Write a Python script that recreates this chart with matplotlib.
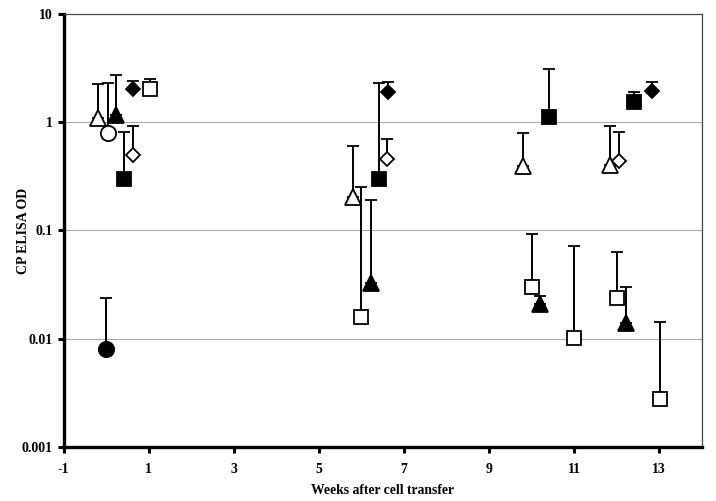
import numpy as np
import matplotlib
matplotlib.use('Agg')
import matplotlib.pyplot as pyplot
from matplotlib.ticker import FixedLocator, FuncFormatter, NullLocator

# weeks after transfer, OD value, top of error bar
tri_open_x = [-0.19, 5.81, 9.81, 11.84]
tri_open_y = [1.09, 0.205, 0.39, 0.40]
tri_open_top = [2.24, 0.60, 0.79, 0.91]

circ_open_x = [0.03]
circ_open_y = [0.79]
circ_open_top = [2.29]

circ_fill_x = [0.0]
circ_fill_y = [0.008]
circ_fill_top = [0.024]

tri_fill_x = [0.24, 6.22, 10.21, 12.21]
tri_fill_y = [1.16, 0.033, 0.021, 0.014]
tri_fill_top = [2.71, 0.19, 0.025, 0.030]

dia_fill_x = [0.64, 6.63, 12.84]
dia_fill_y = [2.01, 1.90, 1.94]
dia_fill_top = [2.39, 2.35, 2.32]

dia_open_x = [0.64, 6.61, 12.05]
dia_open_y = [0.50, 0.46, 0.44]
dia_open_top = [0.91, 0.69, 0.81]

sq_fill_x = [0.42, 6.42, 10.42, 12.42]
sq_fill_y = [0.30, 0.30, 1.12, 1.52]
sq_fill_top = [0.81, 2.27, 3.06, 1.90]

sq_open_x = [1.03, 5.99, 10.0, 10.99, 12.01, 13.01]
sq_open_y = [2.01, 0.016, 0.030, 0.0101, 0.024, 0.0028]
sq_open_top = [2.49, 0.25, 0.093, 0.072, 0.063, 0.0142]

xticks = [-1, 1, 3, 5, 7, 9, 11, 13]
yticks = [0.001, 0.01, 0.1, 1, 10]

pyplot.rcParams['font.family'] = 'Liberation Serif'
pyplot.rcParams['font.weight'] = 'bold'
pyplot.rcParams['axes.unicode_minus'] = False

fig = pyplot.figure(figsize=(7.16, 5.01), dpi=100)
ax = fig.add_axes([0.089, 0.107, 0.891, 0.866])


def serie(x, y, top, marker, fill, size):
    x = np.array(x)
    y = np.array(y)
    up = np.array(top) - y
    err = [np.zeros_like(up), up]
    ax.errorbar(x, y, yerr=err, fmt=marker, color='black', ecolor='black',
                markerfacecolor=fill, markeredgecolor='black', markeredgewidth=1.3,
                markersize=size, elinewidth=1.4, capsize=4.3, capthick=1.4, zorder=3)


serie(tri_open_x, tri_open_y, tri_open_top, '^', 'white', 11.5)
serie(circ_open_x, circ_open_y, circ_open_top, 'o', 'white', 11)
serie(circ_fill_x, circ_fill_y, circ_fill_top, 'o', 'black', 11)
serie(tri_fill_x, tri_fill_y, tri_fill_top, '^', 'black', 11.5)
serie(dia_fill_x, dia_fill_y, dia_fill_top, 'D', 'black', 7.5)
serie(dia_open_x, dia_open_y, dia_open_top, 'D', 'white', 7.5)
serie(sq_fill_x, sq_fill_y, sq_fill_top, 's', 'black', 10.5)
serie(sq_open_x, sq_open_y, sq_open_top, 's', 'white', 10.5)

ax.set_yscale('log')
ax.set_ylim(0.001, 10)
ax.set_xlim(-1, 14)
ax.yaxis.set_major_locator(FixedLocator(yticks))
ax.yaxis.set_minor_locator(NullLocator())
ax.yaxis.set_major_formatter(FuncFormatter(lambda v, p: '%g' % v))
ax.set_xticks(xticks)

for v in [0.01, 0.1, 1]:
    ax.axhline(v, color='#aaaaaa', linewidth=0.8, zorder=1)

ax.spines['left'].set_linewidth(2.4)
ax.spines['bottom'].set_linewidth(2.4)
ax.spines['top'].set_linewidth(0.9)
ax.spines['right'].set_linewidth(0.9)
ax.spines['top'].set_color('#444444')
ax.spines['right'].set_color('#444444')

ax.tick_params(axis='both', direction='out', length=4, width=2.2, labelsize=10, pad=4)
ax.tick_params(axis='x', pad=7)

ax.set_ylabel('CP ELISA OD', fontsize=10, fontweight='bold')
ax.yaxis.set_label_coords(-0.053, 0.5)
ax.set_xlabel('Weeks after cell transfer', fontsize=9.8, fontweight='bold')
ax.xaxis.set_label_coords(0.5, -0.085)

pyplot.savefig('out.png', dpi=100)
